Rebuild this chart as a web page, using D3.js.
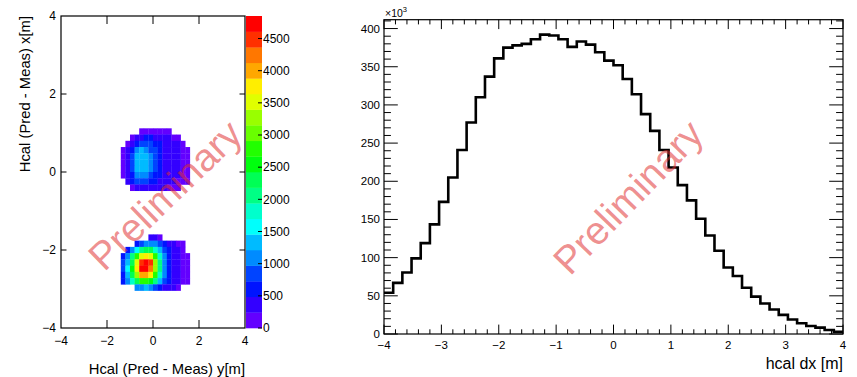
<!DOCTYPE html>
<html>
<head>
<meta charset="utf-8">
<script src="https://cdn.jsdelivr.net/npm/d3@7"></script>
<style>
  body { margin: 0; background: #fff; }
  svg { display: block; }
  text { font-family: "Liberation Sans", Arial, Helvetica, sans-serif; fill: #000; }
</style>
</head>
<body>
<svg id="chart" width="857" height="377"></svg>
<script>
// ---- 2D map: Hcal (Pred - Meas), counts per bin ----
// column edges along y [m]
const mapYEdges = [-1.4, -1.2, -1.0, -0.8, -0.6, -0.4, -0.2, 0.0, 0.2, 0.4, 0.6, 0.8, 1.0, 1.2, 1.4, 1.6];
// row edges along x [m], upper spot (top to bottom)
const upperXEdges = [1.12, 0.96, 0.80, 0.64, 0.48, 0.32, 0.16, 0.00, -0.16, -0.32, -0.48];
// row edges along x [m], lower spot (top to bottom)
const lowerXEdges = [-1.60, -1.76, -1.92, -2.08, -2.24, -2.40, -2.56, -2.72, -2.88, -3.04];

const upperCounts = [
  [0, 0, 0, 0, 120, 180, 220, 220, 200, 160, 120, 0, 0, 0, 0],
  [0, 0, 150, 260, 420, 520, 520, 460, 380, 320, 280, 200, 130, 0, 0],
  [0, 180, 400, 650, 800, 850, 750, 620, 500, 400, 340, 300, 260, 160, 0],
  [140, 330, 650, 1050, 1250, 1200, 950, 760, 560, 420, 370, 340, 300, 220, 120],
  [160, 400, 760, 1250, 1400, 1300, 1000, 800, 600, 440, 390, 350, 310, 230, 130],
  [170, 420, 800, 1300, 1450, 1300, 1000, 800, 600, 450, 400, 360, 320, 230, 130],
  [160, 400, 760, 1250, 1380, 1250, 980, 780, 580, 440, 390, 350, 300, 220, 120],
  [140, 360, 680, 1050, 1150, 1050, 880, 700, 540, 420, 370, 330, 280, 200, 110],
  [0, 260, 520, 760, 860, 820, 720, 600, 480, 390, 340, 300, 240, 160, 100],
  [0, 0, 200, 340, 420, 430, 400, 360, 310, 260, 220, 180, 130, 0, 0]
];

const lowerCounts = [
  [0, 0, 0, 0, 0, 0, 250, 300, 220, 0, 0, 0, 0, 0, 0],
  [0, 0, 0, 600, 900, 1150, 1200, 1050, 800, 550, 380, 300, 240, 150, 0],
  [0, 500, 1000, 1600, 2100, 2400, 2300, 1900, 1400, 850, 520, 380, 300, 200, 0],
  [650, 1200, 2000, 2900, 3500, 3800, 3500, 2700, 1800, 1050, 620, 430, 340, 230, 130],
  [750, 1450, 2400, 3500, 4400, 4850, 4400, 3200, 2100, 1150, 660, 450, 350, 240, 130],
  [780, 1500, 2500, 3700, 4650, 4800, 4300, 3200, 2050, 1120, 650, 450, 350, 240, 130],
  [700, 1350, 2300, 3300, 4000, 4100, 3700, 2800, 1800, 1000, 600, 420, 330, 220, 120],
  [500, 1050, 1750, 2400, 2800, 2850, 2550, 1950, 1350, 800, 500, 380, 300, 200, 110],
  [0, 0, 0, 1000, 1200, 1250, 1100, 900, 650, 450, 340, 270, 200, 0, 0]
];

const mapAxisTicks = [-4, -2, 0, 2, 4];
const zTicks = [0, 500, 1000, 1500, 2000, 2500, 3000, 3500, 4000, 4500];

// ---- 1D histogram: hcal dx ----
const dxRange = [-4, 4];
const dxBinWidth = 0.16;
const dxCounts = [
  54000, 67000, 80500, 99000, 119000, 143500, 173000, 205000, 241000, 277000,
  310000, 337000, 361000, 375000, 378000, 380000, 386000, 392000, 391000, 386000,
  376000, 383000, 379000, 369000, 358000, 352000, 334000, 314000, 288000, 266000,
  241000, 218000, 195000, 175000, 151000, 129000, 109000, 87000, 76000, 60500,
  49000, 40000, 32000, 25000, 19000, 14000, 10500, 8300, 5200, 3000
];
const dxTicks = [-4, -3, -2, -1, 0, 1, 2, 3, 4];
const countTicks = [0, 50000, 100000, 150000, 200000, 250000, 300000, 350000, 400000];

const watermark = "Preliminary";

// ---------------------------------------------------------------
const svg = d3.select("#chart");
const minus = s => String(s).replace("-", "\u2212");

// rainbow palette: 50 colours from violet (hue 280) down to red
const paletteSize = 50, nContours = 20;
const palette = d3.range(paletteSize).map(i =>
  d3.hsl(280 - (i + 1) * (280 / paletteSize), 1, 0.5).formatHex());
const contourColor = k => palette[Math.floor((k + 0.99) * paletteSize / nContours)];

// ===== left panel =====
const L = { x0: 61, x1: 245, y0: 16, y1: 328 };
const mx = d3.scaleLinear().domain([-4, 4]).range([L.x0, L.x1]);
const my = d3.scaleLinear().domain([-4, 4]).range([L.y1, L.y0]);

const zMax = d3.max([...upperCounts.flat(), ...lowerCounts.flat()]);
const zScale = d3.scaleLinear().domain([0, zMax]).range([L.y1, L.y0]);
const zLevel = z => Math.min(nContours - 1, Math.floor(0.01 + z * nContours / zMax));

const cells = [];
function addCells(counts, xEdges) {
  counts.forEach((row, r) => row.forEach((v, c) => {
    if (v > 0) cells.push({ y0: mapYEdges[c], y1: mapYEdges[c + 1], x0: xEdges[r + 1], x1: xEdges[r], v });
  }));
}
addCells(upperCounts, upperXEdges);
addCells(lowerCounts, lowerXEdges);

const gMap = svg.append("g");
gMap.selectAll("rect.cell").data(cells).join("rect")
  .attr("class", "cell")
  .attr("x", d => mx(d.y0))
  .attr("y", d => my(d.x1))
  .attr("width", d => mx(d.y1) - mx(d.y0) + 0.3)
  .attr("height", d => my(d.x0) - my(d.x1) + 0.3)
  .attr("fill", d => contourColor(zLevel(d.v)));

// frame
gMap.append("rect")
  .attr("x", L.x0).attr("y", L.y0)
  .attr("width", L.x1 - L.x0).attr("height", L.y1 - L.y0)
  .attr("fill", "none").attr("stroke", "#000").attr("stroke-width", 1.2);

// ticks on all four sides
const mapInner = mapAxisTicks.slice(1, -1);
const tkLenX = 8, tkLenY = 5.5;
mapInner.forEach(t => {
  gMap.append("line").attr("x1", mx(t)).attr("x2", mx(t)).attr("y1", L.y1).attr("y2", L.y1 - tkLenX).attr("stroke", "#000");
  gMap.append("line").attr("x1", mx(t)).attr("x2", mx(t)).attr("y1", L.y0).attr("y2", L.y0 + tkLenX).attr("stroke", "#000");
  gMap.append("line").attr("y1", my(t)).attr("y2", my(t)).attr("x1", L.x0).attr("x2", L.x0 + tkLenY).attr("stroke", "#000");
  gMap.append("line").attr("y1", my(t)).attr("y2", my(t)).attr("x1", L.x1).attr("x2", L.x1 - tkLenY).attr("stroke", "#000");
});
mapAxisTicks.forEach(t => {
  gMap.append("text").attr("x", mx(t)).attr("y", L.y1 + 17)
    .attr("text-anchor", "middle").attr("font-size", 12).text(minus(t));
  gMap.append("text").attr("x", L.x0 - 5).attr("y", my(t)).attr("dy", "0.35em")
    .attr("text-anchor", "end").attr("font-size", 12).text(minus(t));
});

gMap.append("text").attr("x", L.x1).attr("y", 374)
  .attr("text-anchor", "end").attr("font-size", 14.8).text("Hcal (Pred - Meas) y[m]");
gMap.append("text").attr("transform", `translate(30,${L.y0}) rotate(-90)`)
  .attr("text-anchor", "end").attr("font-size", 14.8).text("Hcal (Pred - Meas) x[m]");

// colour bar
const CB = { x0: 246, x1: 262 };
const levels = d3.range(nContours);
gMap.selectAll("rect.band").data(levels).join("rect")
  .attr("class", "band")
  .attr("x", CB.x0).attr("width", CB.x1 - CB.x0)
  .attr("y", k => zScale((k + 1) * zMax / nContours))
  .attr("height", k => zScale(k * zMax / nContours) - zScale((k + 1) * zMax / nContours) + 0.3)
  .attr("fill", k => contourColor(k));
zTicks.forEach(t => {
  gMap.append("line").attr("x1", CB.x1).attr("x2", CB.x1 - 4)
    .attr("y1", zScale(t)).attr("y2", zScale(t)).attr("stroke", "#000");
  gMap.append("text").attr("x", CB.x1 + 1).attr("y", zScale(t)).attr("dy", "0.35em")
    .attr("font-size", 12).text(t);
});

// ===== right panel =====
const R = { x0: 384, x1: 843, y0: 19.7, y1: 334 };
const hx = d3.scaleLinear().domain(dxRange).range([R.x0, R.x1]);
const yTop = d3.max(dxCounts) * 1.05;
const hy = d3.scaleLinear().domain([0, yTop]).range([R.y1, R.y0]);

const gH = svg.append("g");
gH.append("rect")
  .attr("x", R.x0).attr("y", R.y0)
  .attr("width", R.x1 - R.x0).attr("height", R.y1 - R.y0)
  .attr("fill", "none").attr("stroke", "#000").attr("stroke-width", 1.2);

// ticks: x every 0.2 (major every 1), y every 10k (major every 50k)
const xMinor = d3.range(-4, 4.0001, 0.2);
xMinor.forEach((t, i) => {
  const len = i % 5 === 0 ? 9.4 : 4.7;
  gH.append("line").attr("x1", hx(t)).attr("x2", hx(t)).attr("y1", R.y1).attr("y2", R.y1 - len).attr("stroke", "#000");
  gH.append("line").attr("x1", hx(t)).attr("x2", hx(t)).attr("y1", R.y0).attr("y2", R.y0 + len).attr("stroke", "#000");
});
const yMinor = d3.range(0, yTop, 10000);
yMinor.forEach((t, i) => {
  const len = i % 5 === 0 ? 13.8 : 6.9;
  gH.append("line").attr("y1", hy(t)).attr("y2", hy(t)).attr("x1", R.x0).attr("x2", R.x0 + len).attr("stroke", "#000");
  gH.append("line").attr("y1", hy(t)).attr("y2", hy(t)).attr("x1", R.x1).attr("x2", R.x1 - len).attr("stroke", "#000");
});

dxTicks.forEach(t => {
  gH.append("text").attr("x", hx(t)).attr("y", R.y1 + 15)
    .attr("text-anchor", "middle").attr("font-size", 11.5).text(minus(t));
});
countTicks.forEach(t => {
  gH.append("text").attr("x", R.x0 - 4).attr("y", hy(t)).attr("dy", "0.35em")
    .attr("text-anchor", "end").attr("font-size", 11.5).text(t / 1000);
});
const mult = gH.append("text").attr("x", R.x0 + 1).attr("y", 17).attr("font-size", 10.5);
mult.append("tspan").text("\u00d710");
mult.append("tspan").attr("dy", -5).attr("font-size", 7.5).text("3");

gH.append("text").attr("x", R.x1).attr("y", 369)
  .attr("text-anchor", "end").attr("font-size", 16).text("hcal dx [m]");

// step outline of the histogram
const steps = [];
dxCounts.forEach((v, i) => {
  const a = dxRange[0] + i * dxBinWidth, b = a + dxBinWidth;
  steps.push([a, v], [b, v]);
});
gH.append("path")
  .attr("d", d3.line().x(d => hx(d[0])).y(d => hy(d[1]))(steps))
  .attr("fill", "none").attr("stroke", "#000").attr("stroke-width", 2.6)
  .attr("stroke-linejoin", "miter");

// ===== watermarks =====
[[165, 195, -44], [628, 197, -46]].forEach(([cx, cy, ang]) => {
  svg.append("text")
    .attr("transform", `translate(${cx},${cy}) rotate(${ang})`)
    .attr("text-anchor", "middle").attr("dy", "0.35em")
    .attr("font-size", 39)
    .style("fill", "#e03030").attr("fill-opacity", 0.55)
    .text(watermark);
});
</script>
</body>
</html>
